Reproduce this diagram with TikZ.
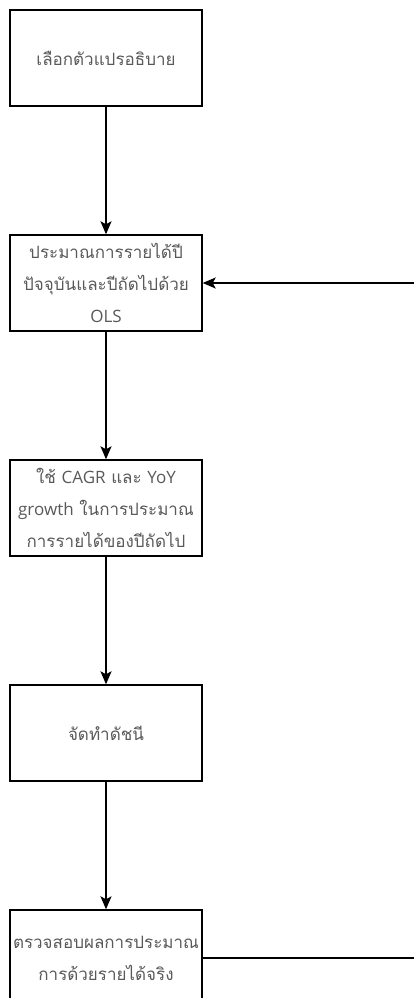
\documentclass[tikz,border=0pt]{standalone}
\usepackage{fontspec}
\setmainfont[Script=Thai]{Loma}
\newfontfamily\latinfont{Open Sans}
\newcommand{\lt}[1]{{\latinfont #1}}
\usetikzlibrary{arrows.meta}
\definecolor{txtgray}{HTML}{595959}
\tikzset{
  stepbox/.style={draw=black, line width=1.4pt, minimum width=192pt, minimum height=96pt,
    inner sep=0pt, text width=190pt, align=center, text=txtgray, font=\fontsize{17}{32}\selectfont},
  flow/.style={draw=black, line width=1.4pt, -{Stealth[length=13pt,width=11pt,inset=3pt]}},
  plain/.style={draw=black, line width=1.4pt}
}
\begin{document}
\begin{tikzpicture}[x=1pt,y=-1pt]
\useasboundingbox (0,0) rectangle (414,998);
\clip (0,0) rectangle (414,998);
\node[stepbox] (b1) at (106,58) {เลือกตัวแปรอธิบาย};
\node[stepbox] (b2) at (106,283) {ประมาณการรายได้ปี\\ปัจจุบันและปีถัดไปด้วย\\\lt{OLS}};
\node[stepbox] (b3) at (106,508) {ใช้ \lt{CAGR} และ \lt{YoY}\\\lt{growth} ในการประมาณ\\การรายได้ของปีถัดไป};
\node[stepbox] (b4) at (106,733) {จัดทำดัชนี};
\node[stepbox] (b5) at (106,958) {ตรวจสอบผลการประมาณ\\การด้วยรายได้จริง};
\coordinate (r2) at (420,283);
\coordinate (r5) at (420,958);
\draw[flow] (b1) -- (b2);
\draw[flow] (b2) -- (b3);
\draw[flow] (b3) -- (b4);
\draw[flow] (b4) -- (b5);
\draw[flow] (r2) -- (b2.east);
\draw[plain] (b5.east) -- (r5);
\end{tikzpicture}
\end{document}
